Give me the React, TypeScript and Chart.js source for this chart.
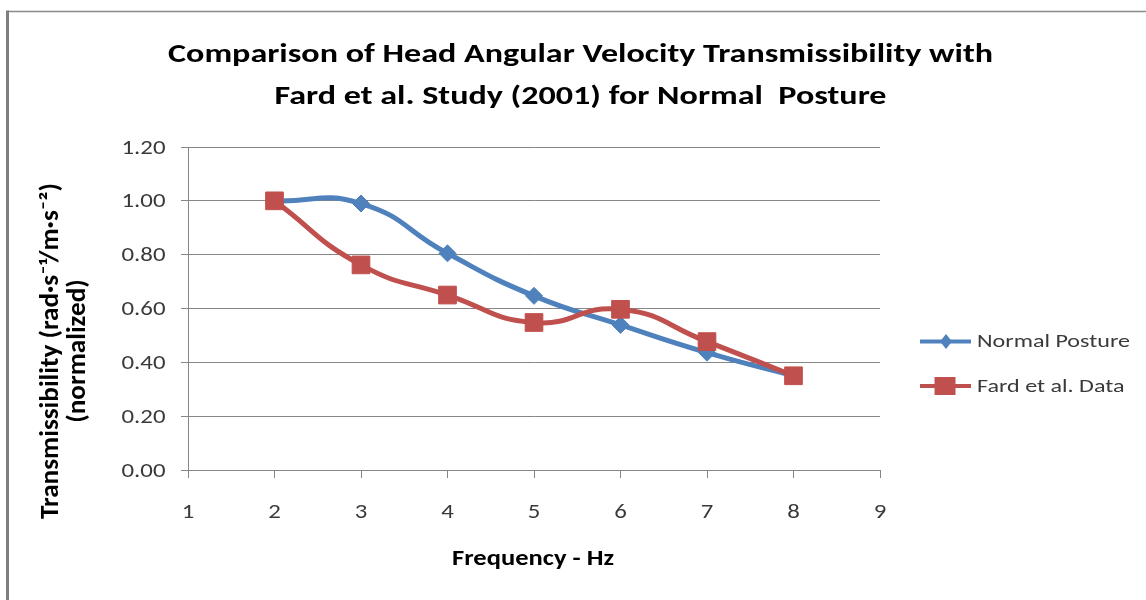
import React, { useEffect, useRef } from "react";
import { Chart, registerables } from "chart.js";

Chart.register(...registerables);

const titleLines = [
  "Comparison of Head Angular Velocity Transmissibility with",
  "Fard et al. Study (2001) for Normal  Posture",
];
const yTitleLines = ["Transmissibility (rad·s\u207B\u00B9/m·s\u207B\u00B2)", "(normalized)"];
const xTitle = "Frequency - Hz";
const frequencies = [2, 3, 4, 5, 6, 7, 8];
const normalPosture = [1.0, 0.99, 0.805, 0.647, 0.539, 0.436, 0.35];
const fardData = [1.0, 0.762, 0.65, 0.548, 0.597, 0.477, 0.35];
const seriesNames = ["Normal Posture", "Fard et al. Data"];

const FONT = "Carlito, Calibri, Lato, 'Open Sans', sans-serif";
const BLUE = "#4F81BD";
const RED = "#C0504D";
const GRID = "#868686";
const TICK_COLOR = "#3a3a3a";

function fontStr(size: number, bold = false) {
  return `${bold ? "bold " : ""}${size}px ${FONT}`;
}

// draw text with horizontal scale sx (vertical sy), anchored at (x, y)
function drawText(
  ctx: CanvasRenderingContext2D,
  text: string,
  x: number,
  y: number,
  size: number,
  bold: boolean,
  sx: number,
  align: CanvasTextAlign,
  color: string
) {
  ctx.save();
  ctx.font = fontStr(size, bold);
  ctx.fillStyle = color;
  ctx.textAlign = align;
  ctx.textBaseline = "alphabetic";
  ctx.translate(x, y);
  ctx.scale(sx, 1);
  ctx.fillText(text, 0, 0);
  ctx.restore();
}

function scaleFor(ctx: CanvasRenderingContext2D, text: string, size: number, bold: boolean, target: number) {
  ctx.save();
  ctx.font = fontStr(size, bold);
  const w = ctx.measureText(text).width;
  ctx.restore();
  return target / w;
}

const decorPlugin = {
  id: "decor",
  beforeDraw(chart: any) {
    const ctx = chart.ctx;
    ctx.save();
    ctx.fillStyle = "#ffffff";
    ctx.fillRect(0, 0, chart.width, chart.height);
    ctx.strokeStyle = "#8a8a8a";
    ctx.lineWidth = 1.5;
    ctx.beginPath();
    ctx.moveTo(7, 11.5);
    ctx.lineTo(chart.width, 11.5);
    ctx.stroke();
    ctx.strokeStyle = "#7f7f7f";
    ctx.lineWidth = 3;
    ctx.beginPath();
    ctx.moveTo(7.5, chart.height);
    ctx.lineTo(7.5, 10.5);
    ctx.stroke();
    ctx.restore();
  },
  afterDraw(chart: any) {
    const ctx: CanvasRenderingContext2D = chart.ctx;
    // title
    const tsx = scaleFor(ctx, titleLines[0], 26, true, 825);
    drawText(ctx, titleLines[0], 580.5, 62, 26, true, tsx, "center", "#000");
    drawText(ctx, titleLines[1], 580.5, 104, 26, true, tsx, "center", "#000");

    // tick labels
    const tickSx = scaleFor(ctx, "1.20", 20, false, 44);
    const ys = chart.scales.y;
    for (const t of ys.ticks) {
      const py = ys.getPixelForValue(t.value);
      drawText(ctx, Number(t.value).toFixed(2), 165.5, py + 6.5, 20, false, tickSx, "right", TICK_COLOR);
    }
    const xs = chart.scales.x;
    for (const t of xs.ticks) {
      const px = xs.getPixelForValue(t.value);
      drawText(ctx, String(t.value), px, 518, 20, false, tickSx, "center", TICK_COLOR);
    }

    // x title
    const xsx = scaleFor(ctx, xTitle, 22, true, 162);
    drawText(ctx, xTitle, (xs.left + xs.right) / 2 - 1, 565, 22, true, xsx, "center", "#000");

    // y title (rotated, reading upward)
    ctx.save();
    ctx.font = fontStr(21, true);
    const along = 336 / ctx.measureText(yTitleLines[0]).width;
    const cross = 1.2;
    const cy = 351;
    const baseX = [58, 85];
    for (let i = 0; i < 2; i++) {
      ctx.save();
      ctx.translate(baseX[i], cy);
      ctx.rotate(-Math.PI / 2);
      ctx.scale(along, cross);
      ctx.font = fontStr(21, true);
      ctx.fillStyle = "#000";
      ctx.textAlign = "center";
      ctx.textBaseline = "alphabetic";
      ctx.fillText(yTitleLines[i], 0, 0);
      ctx.restore();
    }
    ctx.restore();

    // legend
    const items = [
      { name: seriesNames[0], color: BLUE, y: 341.5, shape: "diamond" },
      { name: seriesNames[1], color: RED, y: 386, shape: "square" },
    ];
    const lsx = scaleFor(ctx, seriesNames[0], 18, false, 153);
    for (const it of items) {
      ctx.save();
      ctx.strokeStyle = it.color;
      ctx.lineWidth = 4;
      ctx.beginPath();
      ctx.moveTo(920, it.y);
      ctx.lineTo(971, it.y);
      ctx.stroke();
      ctx.fillStyle = it.color;
      ctx.beginPath();
      if (it.shape === "diamond") {
        ctx.moveTo(946, it.y - 7.5);
        ctx.lineTo(952, it.y);
        ctx.lineTo(946, it.y + 7.5);
        ctx.lineTo(940, it.y);
        ctx.closePath();
      } else {
        ctx.rect(934.5, it.y - 9, 21, 18);
      }
      ctx.fill();
      ctx.restore();
      drawText(ctx, it.name, 977, it.y + 5.5, 18, false, lsx, "left", TICK_COLOR);
    }
  },
};

export default function App() {
  const ref = useRef<HTMLCanvasElement>(null);
  useEffect(() => {
    document.body.style.margin = "0";
    const toPts = (vals: number[]) => frequencies.map((f, i) => ({ x: f, y: vals[i] }));
    const chart = new Chart(ref.current!, {
      type: "line",
      data: {
        datasets: [
          {
            label: seriesNames[0],
            data: toPts(normalPosture),
            borderColor: BLUE,
            backgroundColor: BLUE,
            borderWidth: 5,
            pointStyle: "rectRot",
            pointRadius: 8.5,
            pointBorderWidth: 1,
            tension: 0.5,
            order: 1,
          },
          {
            label: seriesNames[1],
            data: toPts(fardData),
            borderColor: RED,
            backgroundColor: RED,
            borderWidth: 5,
            pointStyle: "rect",
            pointRadius: 12.5,
            pointBorderWidth: 1,
            tension: 0.5,
            order: 0,
          },
        ],
      },
      options: {
        responsive: false,
        animation: false,
        layout: { padding: { left: 0, top: 147, right: 266, bottom: 0 } },
        plugins: {
          legend: { display: false },
          title: { display: false },
          tooltip: { enabled: false },
        },
        scales: {
          x: {
            type: "linear",
            min: 1,
            max: 9,
            afterFit: (s: any) => {
              s.height = 130;
            },
            ticks: { stepSize: 1, display: false },
            grid: { drawOnChartArea: false, drawTicks: true, tickLength: 8, color: GRID },
            border: { color: GRID },
          },
          y: {
            min: 0,
            max: 1.2,
            afterFit: (s: any) => {
              s.width = 188;
            },
            ticks: { stepSize: 0.2, display: false },
            grid: { color: GRID, drawTicks: true, tickLength: 7 },
            border: { color: GRID },
          },
        },
      },
      plugins: [decorPlugin],
    } as any);
    return () => chart.destroy();
  }, []);
  return <canvas ref={ref} width={1146} height={600} style={{ display: "block" }} />;
}
